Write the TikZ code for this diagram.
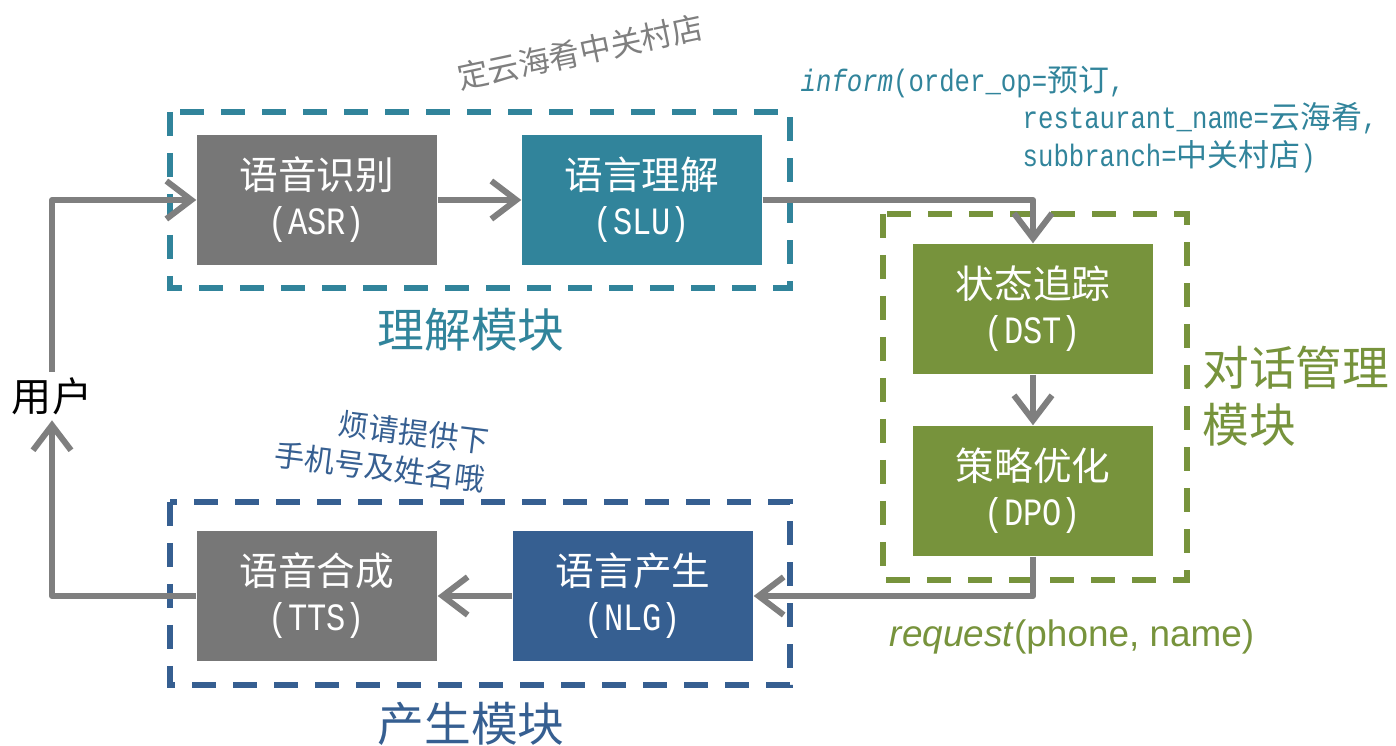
\documentclass[tikz,border=0pt]{standalone}
\usepackage{fontspec}
\usepackage{tikz}
\usetikzlibrary{arrows.meta}
\setmainfont{Noto Sans CJK SC}
\newfontfamily\latmono[FakeStretch=0.83]{Liberation Mono}
\newfontfamily\latsans{Liberation Sans}
\definecolor{boxgray}{HTML}{777777}
\definecolor{flowgray}{HTML}{7F7F7F}
\definecolor{slublue}{HTML}{31849B}
\definecolor{dmgreen}{HTML}{77933C}
\definecolor{nlgblue}{HTML}{365F91}

\begin{document}
\begin{tikzpicture}[
		blk/.style={fill=#1, text=white, minimum width=2.4cm, minimum height=1.3cm, inner sep=0pt, align=center, font=\fontsize{11pt}{12.8pt}\selectfont},
		modbox/.style={draw=#1, line width=0.055cm, dash pattern=on 0.24cm off 0.17cm},
		flow/.style={draw=flowgray, line width=0.06cm, line join=round, -{Straight Barb[length=0.25cm,width=0.38cm]}}]
		\useasboundingbox (0,0) rectangle (13.96,7.46);
		\draw[modbox=slublue] (1.70,6.34) rectangle (7.90,4.58);
		\draw[modbox=dmgreen] (8.83,5.32) rectangle (11.87,1.66);
		\draw[modbox=nlgblue] (1.70,2.44) rectangle (7.90,0.61);
		\node[blk=boxgray] (asr) at (3.17,5.46) {语音识别\\{\latmono (ASR)}};
		\node[blk=slublue] (slu) at (6.42,5.46) {语言理解\\{\latmono (SLU)}};
		\node[blk=dmgreen] (dst) at (10.33,4.37) {状态追踪\\{\latmono (DST)}};
		\node[blk=dmgreen] (dpo) at (10.33,2.55) {策略优化\\{\latmono (DPO)}};
		\node[blk=nlgblue] (nlg) at (6.33,1.50) {语言产生\\{\latmono (NLG)}};
		\node[blk=boxgray] (tts) at (3.17,1.50) {语音合成\\{\latmono (TTS)}};
		\node[font=\fontsize{11.4pt}{13pt}\selectfont, inner xsep=0pt, inner ysep=0.05cm] (user) at (0.52,3.50) {用户};
		\node[text=slublue, font=\fontsize{13.3pt}{15pt}\selectfont] (understand) at (4.71,4.16) {理解模块};
		\node[text=nlgblue, font=\fontsize{13.3pt}{15pt}\selectfont] (generate) at (4.71,0.22) {产生模块};
		\node[text=dmgreen, anchor=west, align=left, font=\fontsize{13.3pt}{16.2pt}\selectfont] (manage) at (11.90,3.50) {对话管理\\模块};
		\node[text=flowgray, rotate=12, font=\fontsize{8.9pt}{10pt}\selectfont] (query) at (5.80,6.94) {定云海肴中关村店};
		\node[text=nlgblue, rotate=-7, align=right, font=\fontsize{8.6pt}{11pt}\selectfont] (reply) at (3.82,2.98) {烦请提供下\\手机号及姓名哦};
		\node[text=slublue, anchor=north west, align=left, inner sep=0pt, font=\fontsize{8.8pt}{10.8pt}\selectfont] (inform) at (8.00,6.81) {{\latmono\itshape inform}{\latmono (order\_op=}预订{\latmono ,}\\
			\hspace*{2.22cm}{\latmono restaurant\_name=}云海肴{\latmono ,}\\
			\hspace*{2.22cm}{\latmono subbranch=}中关村店{\latmono )}};
		\node[text=dmgreen, font=\latsans\fontsize{10.5pt}{12pt}\selectfont] (request) at (10.72,1.09) {\textit{request}(phone, name)};
		\draw[flow] (user.north) |- (asr.west);
		\draw[flow] (asr) -- (slu);
		\draw[flow] (slu.east) -| (dst.north);
		\draw[flow] (dst) -- (dpo);
		\draw[flow] (dpo.south) |- (nlg.east);
		\draw[flow] (nlg) -- (tts);
		\draw[flow] (tts.west) -| (user.south);
	\end{tikzpicture}
\end{document}
